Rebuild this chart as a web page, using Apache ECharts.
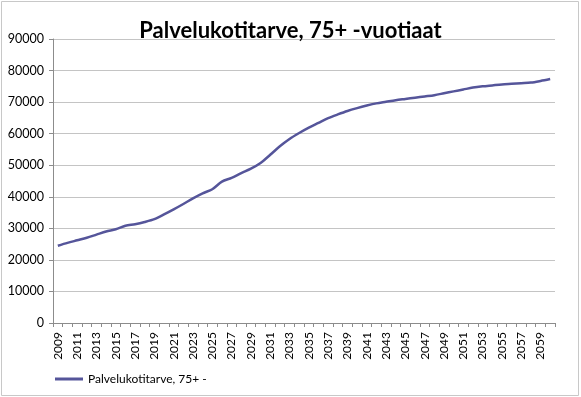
<!DOCTYPE html>
<html><head><meta charset="utf-8">
<script src="https://cdn.jsdelivr.net/npm/echarts@6/dist/echarts.min.js"></script>
<style>html,body{margin:0;padding:0;background:#fff}#c{width:581px;height:397px}</style>
</head><body><div id="c"></div>
<script>
const titleText = "Palvelukotitarve, 75+ -vuotiaat";
const seriesName = "Palvelukotitarve, 75+ -";
const years = [];
for (let y = 2009; y <= 2060; y++) years.push(String(y));
const values = [
 24500, 25400, 26200, 27000, 28000, 29000, 29700, 30800, 31300, 32000,
 32900, 34400, 36000, 37700, 39500, 41100, 42400, 44800, 46000, 47500,
 48900, 50700, 53300, 56000, 58300, 60200, 61900, 63400, 64900, 66100,
 67200, 68100, 68900, 69600, 70100, 70600, 71000, 71400, 71800, 72200,
 72800, 73400, 74000, 74600, 75000, 75300, 75600, 75800, 76000, 76200,
 76700, 77300
];
const yMin = 0, yMax = 90000, yStep = 10000;

const chart = echarts.init(document.getElementById('c'), null, {renderer: 'canvas'});
chart.setOption({
  animation: false,
  backgroundColor: '#fff',
  textStyle: {fontFamily: 'Lato'},
  graphic: [{type: 'rect', shape: {x: 1.5, y: 1.5, width: 577, height: 394}, style: {fill: 'none', stroke: '#c8c8c8', lineWidth: 1}}],
  title: {text: titleText, left: 'center', top: 15, textStyle: {fontFamily: 'Lato', fontWeight: 'bold', fontSize: 22, color: '#000'}},
  legend: {left: 50, top: 368, itemWidth: 28, itemHeight: 3, icon: 'rect', itemGap: 4,
    textStyle: {fontFamily: 'Lato', fontSize: 12, color: '#000'}, data: [seriesName]},
  grid: {left: 53, right: 26, top: 39, bottom: 74, containLabel: false},
  xAxis: {type: 'category', data: years, boundaryGap: true,
    axisLine: {lineStyle: {color: '#8c8c8c'}},
    axisTick: {show: true, interval: 0, length: 4, lineStyle: {color: '#8c8c8c'}},
    axisLabel: {interval: 1, rotate: 90, fontSize: 12, color: '#000', margin: 9, fontFamily: 'Lato'},
    splitLine: {show: false}},
  yAxis: {type: 'value', min: yMin, max: yMax, interval: yStep,
    axisLine: {show: true, lineStyle: {color: '#8c8c8c'}},
    axisTick: {show: true, length: 4, lineStyle: {color: '#8c8c8c'}},
    axisLabel: {fontSize: 12.5, color: '#000', margin: 9, fontFamily: 'Lato', formatter: v => String(v)},
    splitLine: {lineStyle: {color: '#c4c4c4'}}},
  series: [{name: seriesName, type: 'line', data: values, smooth: 0.3, showSymbol: false,
    lineStyle: {color: '#55559a', width: 2.5}, itemStyle: {color: '#55559a'}}]
});
</script></body></html>
